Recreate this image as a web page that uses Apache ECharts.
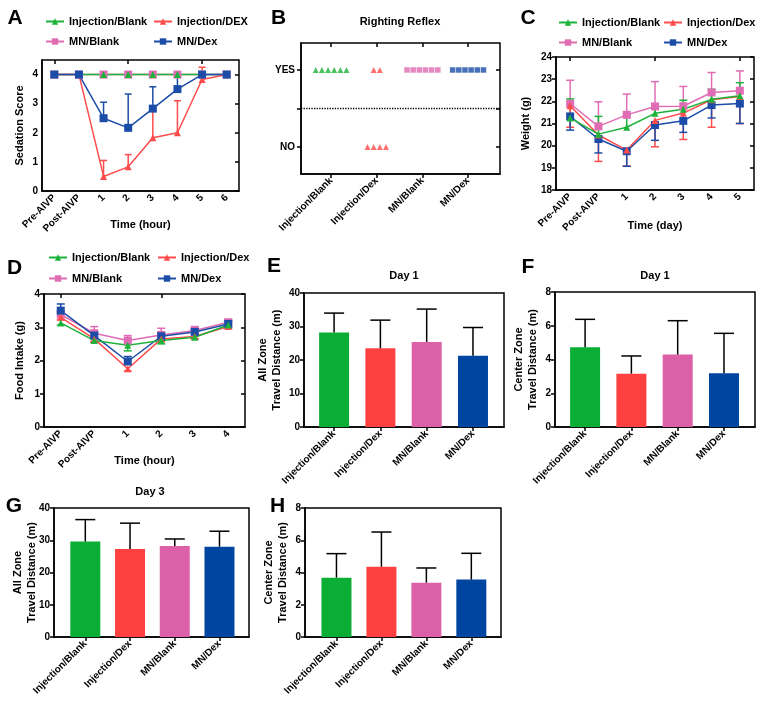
<!DOCTYPE html>
<html>
<head>
<meta charset="utf-8">
<script src="https://cdn.jsdelivr.net/npm/echarts@6/dist/echarts.min.js"></script>
<style>html,body{margin:0;padding:0;background:#fff}#chart{width:762px;height:702px}</style>
</head>
<body>
<div id="chart"></div>
<script>
// ---------- data ----------
const groups = ['Injection/Blank', 'Injection/Dex', 'MN/Blank', 'MN/Dex'];

// A: sedation score
const timeA = ['Pre-AIVP', 'Post-AIVP', '1', '2', '3', '4', '5', '6'];
const sedInjBlank = [4, 4, 4, 4, 4, 4, 4, 4];
const sedMnBlank = [4, 4, 4, 4, 4, 4, 4, 4];
const sedInjDex = [4, 4, 0.5, 0.83, 1.83, 2.0, 3.83, 4];
const sedInjDexSd = [0, 0, 0.55, 0.42, 1.0, 1.1, 0.42, 0];
const sedMnDex = [4, 4, 2.5, 2.17, 2.83, 3.5, 4, 4];
const sedMnDexSd = [0, 0, 0.55, 1.16, 0.75, 0.55, 0, 0];

// B: righting reflex (number of animals)
const reflexYes = [6, 2, 6, 6];
const reflexNo = [0, 4, 0, 0];

// C: weight (g)
const timeC = ['Pre-AIVP', 'Post-AIVP', '1', '2', '3', '4', '5'];
const wInjBlank = [21.25, 20.52, 20.83, 21.46, 21.64, 22.09, 22.25];
const wInjBlankSd = [0.86, 0.8, 0.52, 0.43, 0.41, 0.45, 0.59];
const wMnBlank = [21.89, 20.87, 21.39, 21.77, 21.78, 22.4, 22.48];
const wMnBlankSd = [1.06, 1.11, 0.94, 1.12, 0.89, 0.9, 0.89];
const wInjDex = [21.8, 20.48, 19.8, 21.14, 21.47, 22.07, 22.22];
const wInjDexSd = [0.97, 1.19, 0.72, 1.19, 1.19, 1.24, 1.22];
const wMnDex = [21.32, 20.3, 19.75, 20.93, 21.12, 21.83, 21.9];
const wMnDexSd = [0.62, 0.63, 0.68, 0.69, 0.52, 0.58, 0.9];

// D: food intake (g)
const timeD = ['Pre-AIVP', 'Post-AIVP', '1', '2', '3', '4'];
const fInjBlank = [3.13, 2.6, 2.46, 2.6, 2.7, 3.07];
const fInjBlankSd = [0.06, 0.06, 0.17, 0.1, 0.05, 0.06];
const fMnBlank = [3.38, 2.82, 2.6, 2.77, 2.9, 3.15];
const fMnBlankSd = [0.1, 0.2, 0.15, 0.2, 0.12, 0.08];
const fInjDex = [3.3, 2.65, 1.75, 2.65, 2.72, 3.02];
const fInjDexSd = [0.08, 0.08, 0.07, 0.08, 0.06, 0.06];
const fMnDex = [3.5, 2.75, 1.97, 2.73, 2.86, 3.1];
const fMnDexSd = [0.2, 0.1, 0.15, 0.1, 0.08, 0.1];

// E-H: open field
const allZoneDay1 = [28.2, 23.5, 25.4, 21.3];
const allZoneDay1Sd = [5.8, 8.4, 9.8, 8.4];
const centerDay1 = [4.72, 3.16, 4.29, 3.18];
const centerDay1Sd = [1.66, 1.05, 2.01, 2.37];
const allZoneDay3 = [29.6, 27.3, 28.2, 28.0];
const allZoneDay3Sd = [6.8, 8.0, 2.2, 4.8];
const centerDay3 = [3.68, 4.36, 3.37, 3.56];
const centerDay3Sd = [1.49, 2.15, 0.91, 1.63];

// ---------- styles ----------
const FONT = 'Arial, "Liberation Sans", sans-serif';
const GREEN = '#1DB33A', RED = '#FF4B4B', PINK = '#E06CB3', BLUE = '#1B4DA8';
const BAR_COLORS = ['#0AAE34', '#FF4040', '#DB60A8', '#0046A0'];
const txt = (size) => ({ fontFamily: FONT, fontWeight: 'bold', fontSize: size, color: '#000' });
const black = { color: '#000', width: 1.5 };

const grids = [
  { left: 42, top: 60, width: 197, height: 131 },   // A
  { left: 301, top: 43, width: 199, height: 131 },  // B
  { left: 556, top: 57, width: 198, height: 133 },  // C
  { left: 44, top: 294, width: 201, height: 133 },  // D
  { left: 304, top: 293, width: 200, height: 134 }, // E
  { left: 555, top: 292, width: 200, height: 135 }, // F
  { left: 54, top: 508, width: 195, height: 129 },  // G
  { left: 305, top: 508, width: 196, height: 129 }  // H
].map(g => Object.assign(g, { show: true, borderColor: '#000', borderWidth: 1.5 }));

function catX(gi, cats, name, gap) {
  return {
    type: 'category', gridIndex: gi, data: cats, boundaryGap: true,
    name, nameLocation: 'middle', nameGap: gap, nameMoveOverlap: false, nameTextStyle: txt(11),
    axisLine: { onZero: false, lineStyle: black },
    axisTick: { alignWithLabel: true, length: 4, lineStyle: black },
    axisLabel: Object.assign(txt(10), { rotate: 45, interval: 0, margin: 5 })
  };
}
function groupX(gi, min, max) {
  return {
    type: 'value', gridIndex: gi, min, max, splitLine: { show: false },
    axisLine: { onZero: false, lineStyle: black },
    axisTick: { customValues: [0, 1, 2, 3], length: 4, lineStyle: black },
    axisLabel: Object.assign(txt(10), {
      customValues: [0, 1, 2, 3], rotate: 45, margin: 5,
      formatter: v => groups[Math.round(v)]
    })
  };
}
function valY(gi, min, max, interval, name, gap, extra) {
  return Object.assign({
    type: 'value', gridIndex: gi, min, max, interval,
    name, nameLocation: 'middle', nameGap: gap, nameMoveOverlap: false,
    nameTextStyle: Object.assign(txt(11), { lineHeight: 14 }),
    splitLine: { show: false },
    axisLine: { show: true, onZero: false, lineStyle: black },
    axisTick: { show: true, length: 4, lineStyle: black },
    axisLabel: Object.assign(txt(10), { margin: 4 })
  }, extra || {});
}
function mirrorX(gi, cats, ticks, min, max) {
  const ax = {
    gridIndex: gi, position: 'top', axisLine: { show: false, onZero: false },
    axisTick: { show: true, inside: true, length: 4, lineStyle: black },
    axisLabel: { show: false }, splitLine: { show: false }
  };
  if (cats) Object.assign(ax, { type: 'category', data: cats, boundaryGap: true, axisTick: Object.assign(ax.axisTick, { alignWithLabel: true }) });
  else Object.assign(ax, { type: 'value', min, max, axisTick: Object.assign(ax.axisTick, { customValues: ticks }) });
  return ax;
}
function mirrorY(gi, min, max, ticks) {
  return {
    type: 'value', gridIndex: gi, position: 'right', min, max,
    axisLine: { show: false, onZero: false }, splitLine: { show: false }, axisLabel: { show: false },
    axisTick: { show: true, inside: true, length: 4, lineStyle: black, customValues: ticks }
  };
}

const xAxis = [
  catX(0, timeA, 'Time (hour)', 28),
  groupX(1, -0.66, 3.7),
  catX(2, timeC, 'Time (day)', 30),
  catX(3, timeD, 'Time (hour)', 28),
  groupX(4, -0.65, 3.67),
  groupX(5, -0.65, 3.67),
  groupX(6, -0.7, 3.66),
  groupX(7, -0.7, 3.66),
  mirrorX(0, timeA),
  mirrorX(1, null, [0, 1, 2, 3], -0.66, 3.7),
  mirrorX(2, timeC),
  mirrorX(3, timeD)
];

const yAxis = [
  valY(0, 0, 4.5, 1, 'Sedation Score', 15, {
    axisTick: { length: 4, lineStyle: black, customValues: [0, 1, 2, 3, 4] },
    axisLabel: Object.assign(txt(10), { margin: 4, customValues: [0, 1, 2, 3, 4] })
  }),
  valY(1, -0.35, 1.35, null, '', 0, {
    axisTick: { length: 4, lineStyle: black, customValues: [0, 0.5, 1] },
    axisLabel: Object.assign(txt(10), { margin: 6, customValues: [0, 1], formatter: v => (v === 1 ? 'YES' : 'NO') })
  }),
  valY(2, 18, 24, 1, 'Weight (g)', 23),
  valY(3, 0, 4, 1, 'Food Intake (g)', 17),
  valY(4, 0, 40, 10, 'All Zone\nTravel Distance (m)', 20),
  valY(5, 0, 8, 2, 'Center Zone\nTravel Distance (m)', 15),
  valY(6, 0, 40, 10, 'All Zone\nTravel Distance (m)', 15),
  valY(7, 0, 8, 2, 'Center Zone\nTravel Distance (m)', 15),
  mirrorY(0, 0, 4.5, [0, 1, 2, 3, 4]),
  mirrorY(1, -0.35, 1.35, [0, 0.5, 1]),
  mirrorY(2, 18, 24, [18, 19, 20, 21, 22, 23, 24]),
  mirrorY(3, 0, 4, [0, 1, 2, 3, 4])
];

// ---------- series helpers ----------
function errRender(color, capHalf) {
  return function (params, api) {
    const a = api.coord([api.value(0), api.value(1)]);
    const b = api.coord([api.value(0), api.value(2)]);
    const st = { stroke: color, lineWidth: 1.5 };
    return {
      type: 'group', children: [
        { type: 'line', shape: { x1: a[0], y1: a[1], x2: b[0], y2: b[1] }, style: st },
        { type: 'line', shape: { x1: b[0] - capHalf, y1: b[1], x2: b[0] + capHalf, y2: b[1] }, style: st }
      ]
    };
  };
}
function errSeries(gi, means, sds, dir, color, capHalf, z) {
  const data = [];
  means.forEach((m, i) => { if (sds[i] > 0) data.push([i, m, m + dir * sds[i]]); });
  return {
    type: 'custom', xAxisIndex: gi, yAxisIndex: gi, data, silent: true, z: z || 2,
    encode: { x: 0, y: [1, 2] }, renderItem: errRender(color, capHalf)
  };
}
function lineSeries(gi, name, data, color, symbol, size) {
  return {
    type: 'line', name, data, xAxisIndex: gi, yAxisIndex: gi,
    symbol, symbolSize: size || 7, showSymbol: true,
    itemStyle: { color }, lineStyle: { color, width: 1.5 }, z: 3, animation: false
  };
}
function barSeries(gi, values) {
  return {
    type: 'bar', xAxisIndex: gi, yAxisIndex: gi, barWidth: 30, animation: false,
    data: values.map((v, i) => ({ value: [i, v], itemStyle: { color: BAR_COLORS[i] } }))
  };
}
function reflexSeries(g, symbol, color) {
  const pts = [];
  const add = (n, y) => { for (let k = 0; k < n; k++) pts.push([g + (k - (n - 1) / 2) * 0.135, y]); };
  add(reflexYes[g], 1);
  add(reflexNo[g], 0);
  return {
    type: 'scatter', name: 'reflex ' + groups[g], xAxisIndex: 1, yAxisIndex: 1, data: pts,
    symbol, symbolSize: symbol === 'triangle' ? 6 : 5.5, itemStyle: { color }, animation: false
  };
}

const series = [
  // A
  lineSeries(0, 'MN/Blank', sedMnBlank, PINK, 'rect', 8),
  lineSeries(0, 'Injection/Blank', sedInjBlank, GREEN, 'triangle', 7),
  errSeries(0, sedInjDex, sedInjDexSd, 1, RED, 3.5),
  errSeries(0, sedMnDex, sedMnDexSd, 1, BLUE, 3.5),
  lineSeries(0, 'Injection/DEX', sedInjDex, RED, 'triangle', 7),
  lineSeries(0, 'MN/Dex', sedMnDex, BLUE, 'rect', 8),
  // C
  errSeries(2, wMnBlank, wMnBlankSd, 1, PINK, 4),
  errSeries(2, wInjBlank, wInjBlankSd, 1, GREEN, 4),
  errSeries(2, wInjDex, wInjDexSd, -1, RED, 4),
  errSeries(2, wMnDex, wMnDexSd, -1, BLUE, 4),
  lineSeries(2, 'MN/Blank', wMnBlank, PINK, 'rect', 8),
  lineSeries(2, 'MN/Dex', wMnDex, BLUE, 'rect', 8),
  lineSeries(2, 'Injection/Dex', wInjDex, RED, 'triangle', 7),
  lineSeries(2, 'Injection/Blank', wInjBlank, GREEN, 'triangle', 7),
  // D
  errSeries(3, fMnBlank, fMnBlankSd, 1, PINK, 4),
  errSeries(3, fMnDex, fMnDexSd, 1, BLUE, 4),
  errSeries(3, fInjBlank, fInjBlankSd, -1, GREEN, 4),
  errSeries(3, fInjDex, fInjDexSd, -1, RED, 4),
  lineSeries(3, 'MN/Blank', fMnBlank, PINK, 'rect', 8),
  lineSeries(3, 'MN/Dex', fMnDex, BLUE, 'rect', 8),
  lineSeries(3, 'Injection/Dex', fInjDex, RED, 'triangle', 7),
  lineSeries(3, 'Injection/Blank', fInjBlank, GREEN, 'triangle', 7),
  // B
  Object.assign(reflexSeries(0, 'triangle', GREEN), {
    markLine: {
      silent: true, symbol: 'none', label: { show: false }, animation: false,
      lineStyle: { type: 'dotted', color: '#000', width: 1.3 }, data: [{ yAxis: 0.5 }]
    }
  }),
  reflexSeries(1, 'triangle', RED),
  reflexSeries(2, 'rect', PINK),
  reflexSeries(3, 'rect', BLUE),
  // E-H
  barSeries(4, allZoneDay1), errSeries(4, allZoneDay1, allZoneDay1Sd, 1, '#000', 10, 3),
  barSeries(5, centerDay1), errSeries(5, centerDay1, centerDay1Sd, 1, '#000', 10, 3),
  barSeries(6, allZoneDay3), errSeries(6, allZoneDay3, allZoneDay3Sd, 1, '#000', 10, 3),
  barSeries(7, centerDay3), errSeries(7, centerDay3, centerDay3Sd, 1, '#000', 10, 3)
];

function legendCol(names, left, top, gap) {
  return {
    data: names, left, top, orient: 'vertical', itemGap: gap, padding: 0,
    itemWidth: 18, itemHeight: 8, textStyle: txt(11), selectedMode: false
  };
}
const legend = [
  legendCol(['Injection/Blank', 'MN/Blank'], 45, 16, 9),
  legendCol(['Injection/DEX', 'MN/Dex'], 153, 16, 9),
  legendCol(['Injection/Blank', 'MN/Blank'], 558, 17, 9),
  legendCol(['Injection/Dex', 'MN/Dex'], 663, 17, 9),
  legendCol(['Injection/Blank', 'MN/Blank'], 48, 252, 10),
  legendCol(['Injection/Dex', 'MN/Dex'], 157, 252, 10)
];

const label = (text, x, y, size) => ({
  type: 'text', x, y, silent: true,
  style: { text, fill: '#000', font: 'bold ' + size + 'px ' + FONT, align: 'center', verticalAlign: 'middle' }
});
const graphic = [
  label('A', 15, 18, 21), label('B', 278.5, 18, 21), label('C', 528, 18, 21), label('D', 14.5, 268, 21),
  label('E', 274, 266, 21), label('F', 528, 267, 21), label('G', 14, 506, 21), label('H', 277.5, 506, 21),
  label('Righting Reflex', 400, 22, 11), label('Day 1', 404, 276, 11),
  label('Day 1', 655, 276, 11), label('Day 3', 150, 492, 11)
];

const chart = echarts.init(document.getElementById('chart'), null, { renderer: 'canvas' });
chart.setOption({
  animation: false,
  backgroundColor: '#fff',
  textStyle: { fontFamily: FONT },
  grid: grids, xAxis, yAxis, series, legend, graphic
});
</script>
</body>
</html>
